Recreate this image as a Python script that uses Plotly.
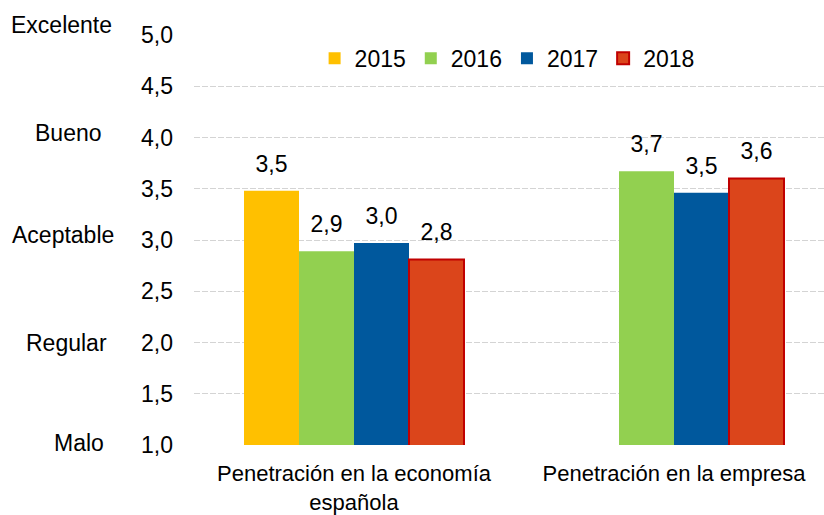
import plotly.graph_objects as go

categories = ["Penetración en la economía<br>española", "Penetración en la empresa"]
years = ["2015", "2016", "2017", "2018"]
values_2015 = [3.48, None]
values_2016 = [2.89, 3.67]
values_2017 = [2.97, 3.46]
values_2018 = [2.81, 3.60]
y_ticks = [1.0, 1.5, 2.0, 2.5, 3.0, 3.5, 4.0, 4.5, 5.0]
rating_labels = ["Excelente", "Bueno", "Aceptable", "Regular", "Malo"]
rating_levels = [5, 4, 3, 2, 1]

series = [values_2015, values_2016, values_2017, values_2018]
fills = ["#FFC000", "#92D050", "#00589D", "#DB451B"]
edges = ["#FFC000", "#92D050", "#00589D", "#C00000"]
edge_w = [0, 0, 0, 2]

FONT = "Liberation Sans, Arial, sans-serif"
FS = 23
x_idx = list(range(len(categories)))

fig = go.Figure()
for name, vals, fc, ec, ew in zip(years, series, fills, edges, edge_w):
    fig.add_trace(go.Bar(
        x=x_idx, y=vals, name=name,
        marker=dict(color=fc, line=dict(color=ec, width=ew)),
    ))

# value labels, grouped the same way as the bars
for name, vals in zip(years, series):
    fig.add_trace(go.Scatter(
        x=x_idx, y=vals, mode="markers+text",
        text=[None if v is None else f"{v:.1f}".replace(".", ",") for v in vals],
        textposition="top center",
        textfont=dict(family=FONT, size=FS, color="#000000"),
        marker=dict(size=20, opacity=0),
        showlegend=False, hoverinfo="skip", cliponaxis=False,
    ))

annotations = []
rating_px = [(9, 10), (33, 5), (10, 5), (24, 0), (52, 2)]
for lab, lev, (px, dy) in zip(rating_labels, rating_levels, rating_px):
    annotations.append(dict(
        text=lab, xref="paper", yref="y", x=(px - 194) / 630, y=lev,
        xanchor="left", yanchor="middle", yshift=dy, showarrow=False,
        font=dict(family=FONT, size=FS, color="#000000"),
    ))

fig.update_layout(
    width=824, height=515,
    margin=dict(l=194, r=0, t=34.5, b=70.2, pad=0),
    paper_bgcolor="white", plot_bgcolor="white",
    barmode="group", bargap=0.3125, bargroupgap=0,
    scattermode="group", scattergap=0.3125,
    separators=",.",
    font=dict(family=FONT, size=FS, color="#000000"),
    legend=dict(orientation="h", x=0.497, xanchor="center", y=0.943, yanchor="middle",
                font=dict(family=FONT, size=FS), bgcolor="rgba(0,0,0,0)",
                itemwidth=30, tracegroupgap=0),
    annotations=annotations,
    showlegend=True,
)
fig.update_xaxes(
    range=[-0.5, 1.46875], tickvals=x_idx, ticktext=categories,
    tickfont=dict(family=FONT, size=22),
    showgrid=False, zeroline=False, showline=False, ticks="",
    ticklabelstandoff=13,
)
fig.update_yaxes(
    range=[1, 5], tickvals=y_ticks, tickformat=".1f",
    showgrid=True, gridcolor="#D4D4D4", gridwidth=1.4, griddash="6px,2px",
    zeroline=False, showline=False, ticks="", ticklabelstandoff=20,
)

fig.write_html("out.html")
